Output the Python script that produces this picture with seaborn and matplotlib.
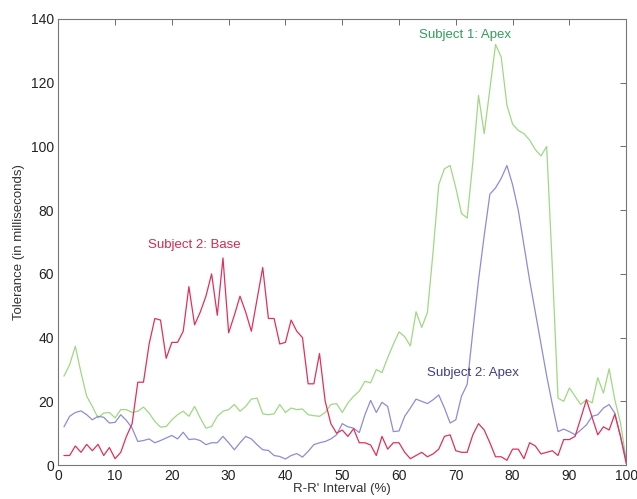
import numpy as np
import pandas as pd
import matplotlib
matplotlib.use("Agg")
import matplotlib.pyplot as plt
import seaborn as sns

interval = list(range(1, 101))

s1_apex = [27.9, 31.5, 37.3, 29, 21.6, 18.4, 14.8, 16.3, 16.5, 14.8,
           17.4, 17.4, 16.5, 16.9, 18.2, 16.3, 13.7, 11.9, 12.1, 14.2,
           15.8, 16.9, 15.3, 18.4, 14.8, 11.6, 12.1, 15.3, 16.9, 17.4,
           19.0, 16.9, 18.4, 20.7, 21.0, 16.1, 15.8, 16.1, 19.0, 16.5,
           17.9, 17.4, 17.6, 15.8, 15.5, 15.3, 16.5, 19.0, 19.3, 16.5,
           19.5, 21.6, 23.2, 26.3, 25.8, 30.0, 29.0, 33.7, 37.9, 41.8,
           40.3, 37.4, 48.1, 43.2, 47.9, 67.0, 88.0, 93.0, 94.0, 87.0,
           79.0, 77.5, 95.0, 116.0, 104.0, 118.0, 132.0, 128.0, 113.0, 107.0,
           105.0, 104.0, 102.0, 99.0, 97.0, 100.0, 62.0, 21.0, 20.0, 24.2,
           21.6, 19.0, 20.5, 19.5, 27.4, 22.6, 30.2, 20.5, 13.2, 1.6]

s2_apex = [12.0, 15.3, 16.5, 17.0, 15.8, 14.2, 15.3, 15.0, 13.2, 13.4,
           15.8, 14.0, 11.6, 7.4, 7.7, 8.2, 7.0, 7.7, 8.5, 9.3,
           8.2, 10.3, 8.0, 8.2, 7.7, 6.4, 7.0, 7.0, 9.0, 7.0,
           4.8, 7.0, 9.0, 8.2, 6.4, 4.8, 4.6, 3.0, 2.7, 1.9,
           3.0, 3.6, 2.5, 4.3, 6.4, 7.0, 7.4, 8.2, 9.5, 13.0,
           12.0, 11.6, 10.2, 15.8, 20.3, 16.5, 19.7, 18.4, 10.5, 10.7,
           15.3, 17.9, 20.7, 20.0, 19.3, 20.5, 22.0, 17.9, 13.2, 14.2,
           21.6, 25.3, 42.0, 58.0, 72.0, 85.0, 87.0, 90.0, 94.0, 88.0,
           80.0, 69.0, 58.0, 48.0, 38.0, 28.0, 19.0, 10.5, 11.3, 10.5,
           9.5, 11.0, 12.6, 15.3, 15.8, 17.9, 19.0, 16.3, 9.0, 1.6]

s2_base = [3.0, 3.0, 6.0, 4.0, 6.5, 4.5, 6.5, 3.0, 5.5, 2.0,
           4.0, 9.0, 13.0, 26.0, 26.0, 38.0, 46.0, 45.5, 33.5, 38.5,
           38.5, 42.0, 56.0, 44.0, 48.0, 53.0, 60.0, 47.0, 65.0, 41.5,
           47.0, 53.0, 48.0, 42.0, 52.0, 62.0, 46.0, 46.0, 38.0, 38.5,
           45.5, 42.0, 40.0, 25.5, 25.5, 35.0, 20.0, 13.0, 10.0, 11.0,
           9.0, 11.4, 7.0, 7.0, 6.3, 3.0, 9.0, 5.0, 7.0, 7.0,
           4.0, 2.0, 3.0, 4.0, 2.6, 3.5, 5.0, 9.0, 9.5, 4.5,
           4.0, 4.0, 9.5, 13.0, 11.0, 7.0, 2.6, 2.6, 1.5, 5.0,
           5.0, 2.0, 7.0, 6.0, 3.5, 4.0, 4.5, 3.0, 8.0, 8.0,
           9.0, 14.7, 20.5, 15.0, 9.5, 12.0, 11.0, 16.0, 9.0, 0.5]

series_names = ["Subject 1: Apex", "Subject 2: Apex", "Subject 2: Base"]
line_colors = ["#9fd882", "#8c8cd8", "#e0305c"]
text_colors = ["#2f9e5a", "#3f3f85", "#d8284f"]

df = pd.concat([
    pd.DataFrame({"x": interval, "y": vals, "series": name})
    for name, vals in zip(series_names, [s1_apex, s2_apex, s2_base])
], ignore_index=True)

sns.set_style("white")
plt.rcParams['font.family'] = ['Liberation Sans', 'DejaVu Sans']

fig = plt.figure(figsize=(6.37, 4.99), dpi=100)
ax = fig.add_axes([0.0915, 0.068, 0.8915, 0.894])

sns.lineplot(data=df, x="x", y="y", hue="series", palette=dict(zip(series_names, line_colors)),
             linewidth=0.9, legend=False, ax=ax)

ax.set_xlim(0, 100)
ax.set_ylim(0, 140)
ax.set_xticks(range(0, 101, 10))
ax.set_yticks(range(0, 141, 20))
ax.tick_params(direction="in", length=4, width=0.6, colors="#555555", labelcolor="#222222",
               labelsize=10, top=True, right=True, pad=3)
for sp in ax.spines.values():
    sp.set_color("#777777")
    sp.set_linewidth(0.8)

ax.set_xlabel("R-R' Interval (%)", fontsize=9.5, color="#333333", labelpad=0)
ax.set_ylabel("Tolerance (in milliseconds)", fontsize=9.5, color="#333333", labelpad=4)

label_pos = [(71.7, 135), (73.0, 29), (24.0, 69)]
for name, (tx, ty), c in zip(series_names, label_pos, text_colors):
    ax.text(tx, ty, name, color=c, fontsize=9.5, ha="center", va="center")

fig.savefig("out.png", dpi=100)
